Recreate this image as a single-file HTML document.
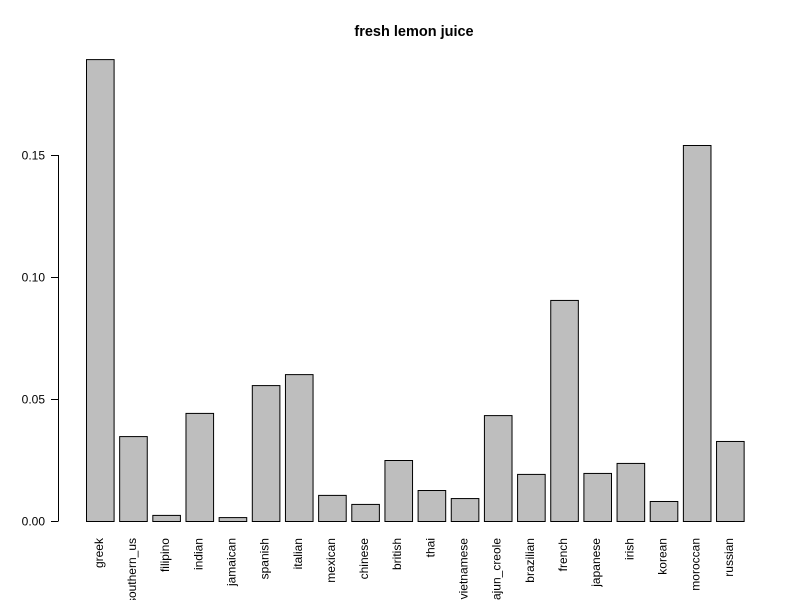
<!DOCTYPE html>
<html><head><meta charset="utf-8"><style>
body{margin:0;background:#fff;}
svg{display:block;font-family:"Liberation Sans",Arial,sans-serif;}
</style></head><body>
<svg id="chart" width="800" height="600" viewBox="0 0 800 600">
<text x="414" y="36" text-anchor="middle" font-size="14.5" font-weight="bold">fresh lemon juice</text>
<g id="yaxis"></g>
<g id="bars"></g>
<g id="xlabels"></g>
</svg>
<script>
const categories=["greek","southern_us","filipino","indian","jamaican","spanish","italian","mexican","chinese","british","thai","vietnamese","cajun_creole","brazilian","french","japanese","irish","korean","moroccan","russian"];
const values=[0.1893,0.0348,0.0025,0.0443,0.0016,0.0557,0.0602,0.0107,0.0070,0.0250,0.0127,0.0094,0.0434,0.0193,0.0906,0.0197,0.0238,0.0082,0.1541,0.0328];
const yTicks=[0,0.05,0.10,0.15];
const yTickLabels=["0.00","0.05","0.10","0.15"];
const NS="http://www.w3.org/2000/svg";
const y0=521, pxPerUnit=2440;
function yScale(v){return y0-v*pxPerUnit;}
const barStart=86, step=33.16, barW=27.6;
function xScale(i){return barStart+i*step;}
function mk(t,a){const e=document.createElementNS(NS,t);for(const k in a)e.setAttribute(k,a[k]);return e;}
const ya=document.getElementById('yaxis');
const axl=mk('line',{x1:58.5,x2:58.5,y1:yScale(yTicks[0]),y2:yScale(yTicks[yTicks.length-1]),stroke:'#000'});


ya.appendChild(axl);
yTicks.forEach((t,i)=>{
  const y=Math.round(yScale(t))+0.5;
  const tk=mk('line',{x1:51,x2:58.5,y1:y,y2:y,stroke:'#000'});
  
  
  ya.appendChild(tk);
  const tx=mk('text',{x:45,y:y+4,'text-anchor':'end','font-size':'12'});
  tx.textContent=yTickLabels[i];
  
  
  ya.appendChild(tx);
});
const bg=document.getElementById('bars'), xl=document.getElementById('xlabels');
categories.forEach((c,i)=>{
  const x=xScale(i), top=yScale(values[i]);
  const r=mk('rect',{x:x+0.5,y:top+0.5,width:barW,height:y0-top,fill:'#bebebe',stroke:'#000','stroke-width':1});
  
  
  bg.appendChild(r);
  const cx=x+barW/2+3;
  const t=mk('text',{x:cx,y:538,'text-anchor':'end','font-size':'12',transform:`rotate(-90 ${cx} 538)`});
  t.textContent=c;
  
  
  xl.appendChild(t);
});
</script>
</body></html>
